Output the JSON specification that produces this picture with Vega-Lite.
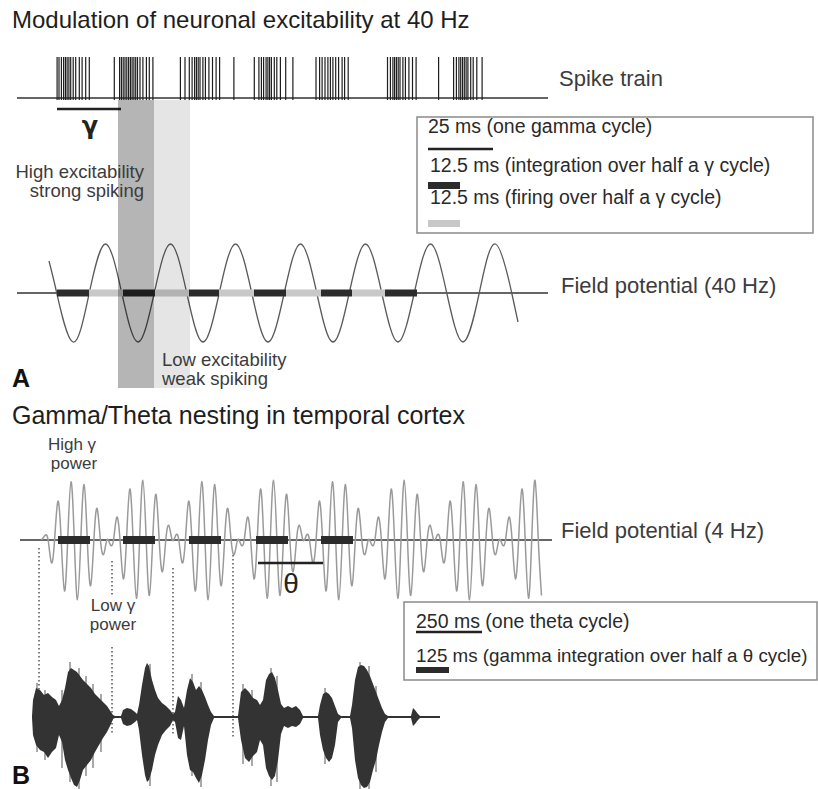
{
  "$schema": "https://vega.github.io/schema/vega-lite/v6.json",
  "width": 818,
  "height": 789,
  "autosize": {"type": "none"},
  "padding": 0,
  "background": "white",
  "config": {"view": {"stroke": null}, "font": "Liberation Sans"},
  "datasets": {
    "baselines": [
      {"x": 17, "x2": 548, "y": 98},
      {"x": 17, "x2": 548, "y": 293},
      {"x": 20, "x2": 552, "y": 540}
    ],
    "waveA": [
      {"x": 49, "y": 261}, {"x": 56.75, "y": 293}, {"x": 73, "y": 342}, {"x": 89.25, "y": 293},
      {"x": 105.5, "y": 244}, {"x": 121.75, "y": 293}, {"x": 138, "y": 342}, {"x": 154.25, "y": 293},
      {"x": 170.5, "y": 244}, {"x": 186.75, "y": 293}, {"x": 203, "y": 342}, {"x": 219.25, "y": 293},
      {"x": 235.5, "y": 244}, {"x": 251.75, "y": 293}, {"x": 268, "y": 342}, {"x": 284.25, "y": 293},
      {"x": 300.5, "y": 244}, {"x": 316.75, "y": 293}, {"x": 333, "y": 342}, {"x": 349.25, "y": 293},
      {"x": 365.5, "y": 244}, {"x": 381.75, "y": 293}, {"x": 398, "y": 342}, {"x": 414.25, "y": 293},
      {"x": 430.5, "y": 244}, {"x": 446.75, "y": 293}, {"x": 463, "y": 342}, {"x": 479.25, "y": 293},
      {"x": 495.5, "y": 244}, {"x": 511.75, "y": 293}, {"x": 518, "y": 322}
    ],
    "waveB": [
      {"x": 41.6, "y": 540}, {"x": 44.9, "y": 535.6}, {"x": 48.1, "y": 540}, {"x": 51.4, "y": 562.7},
      {"x": 54.6, "y": 540}, {"x": 57.9, "y": 501.2}, {"x": 61.2, "y": 540}, {"x": 64.5, "y": 591.0},
      {"x": 67.7, "y": 540}, {"x": 71.0, "y": 481.7}, {"x": 74.3, "y": 540}, {"x": 77.5, "y": 599.8},
      {"x": 80.8, "y": 540}, {"x": 84.1, "y": 484.5}, {"x": 87.3, "y": 540}, {"x": 90.6, "y": 585.8},
      {"x": 93.9, "y": 540}, {"x": 97.1, "y": 508.4}, {"x": 100.4, "y": 540}, {"x": 103.7, "y": 554.3},
      {"x": 106.9, "y": 540}, {"x": 110.2, "y": 544.4}, {"x": 113.5, "y": 540}, {"x": 116.7, "y": 517.3},
      {"x": 120.0, "y": 540}, {"x": 123.3, "y": 578.8}, {"x": 126.5, "y": 540}, {"x": 129.8, "y": 489.0},
      {"x": 133.1, "y": 540}, {"x": 136.4, "y": 598.3}, {"x": 139.6, "y": 540}, {"x": 142.9, "y": 480.2},
      {"x": 146.2, "y": 540}, {"x": 149.4, "y": 595.5}, {"x": 152.7, "y": 540}, {"x": 156.0, "y": 494.2},
      {"x": 159.2, "y": 540}, {"x": 162.5, "y": 571.6}, {"x": 165.8, "y": 540}, {"x": 169.0, "y": 525.7},
      {"x": 172.3, "y": 540}, {"x": 175.6, "y": 535.6}, {"x": 178.8, "y": 540}, {"x": 182.1, "y": 562.7},
      {"x": 185.4, "y": 540}, {"x": 188.6, "y": 501.2}, {"x": 191.9, "y": 540}, {"x": 195.2, "y": 591.0},
      {"x": 198.4, "y": 540}, {"x": 201.7, "y": 481.7}, {"x": 205.0, "y": 540}, {"x": 208.2, "y": 599.8},
      {"x": 211.5, "y": 540}, {"x": 214.8, "y": 484.5}, {"x": 218.0, "y": 540}, {"x": 221.3, "y": 585.8},
      {"x": 224.6, "y": 540}, {"x": 227.8, "y": 508.4}, {"x": 231.1, "y": 540}, {"x": 234.4, "y": 554.3},
      {"x": 237.6, "y": 540}, {"x": 240.9, "y": 544.4}, {"x": 244.2, "y": 540}, {"x": 247.4, "y": 517.3},
      {"x": 250.7, "y": 540}, {"x": 254.0, "y": 578.8}, {"x": 257.2, "y": 540}, {"x": 260.5, "y": 489.0},
      {"x": 263.8, "y": 540}, {"x": 267.1, "y": 598.3}, {"x": 270.3, "y": 540}, {"x": 273.6, "y": 480.2},
      {"x": 276.9, "y": 540}, {"x": 280.1, "y": 595.5}, {"x": 283.4, "y": 540}, {"x": 286.7, "y": 494.2},
      {"x": 289.9, "y": 540}, {"x": 293.2, "y": 571.6}, {"x": 296.5, "y": 540}, {"x": 299.7, "y": 525.7},
      {"x": 303.0, "y": 540}, {"x": 306.3, "y": 535.6}, {"x": 309.5, "y": 540}, {"x": 312.8, "y": 562.7},
      {"x": 316.1, "y": 540}, {"x": 319.3, "y": 501.2}, {"x": 322.6, "y": 540}, {"x": 325.9, "y": 591.0},
      {"x": 329.1, "y": 540}, {"x": 332.4, "y": 481.7}, {"x": 335.7, "y": 540}, {"x": 338.9, "y": 599.8},
      {"x": 342.2, "y": 540}, {"x": 345.5, "y": 484.5}, {"x": 348.7, "y": 540}, {"x": 352.0, "y": 585.8},
      {"x": 355.3, "y": 540}, {"x": 358.5, "y": 508.4}, {"x": 361.8, "y": 540}, {"x": 365.1, "y": 554.3},
      {"x": 368.3, "y": 540}, {"x": 371.6, "y": 544.4}, {"x": 374.9, "y": 540}, {"x": 378.1, "y": 517.3},
      {"x": 381.4, "y": 540}, {"x": 384.7, "y": 578.8}, {"x": 387.9, "y": 540}, {"x": 391.2, "y": 489.0},
      {"x": 394.5, "y": 540}, {"x": 397.8, "y": 598.3}, {"x": 401.0, "y": 540}, {"x": 404.3, "y": 480.2},
      {"x": 407.5, "y": 540}, {"x": 410.8, "y": 595.5}, {"x": 414.1, "y": 540}, {"x": 417.4, "y": 494.2},
      {"x": 420.6, "y": 540}, {"x": 423.9, "y": 571.6}, {"x": 427.2, "y": 540}, {"x": 430.4, "y": 525.7},
      {"x": 433.7, "y": 540}, {"x": 437.0, "y": 535.6}, {"x": 440.2, "y": 540}, {"x": 443.5, "y": 562.7},
      {"x": 446.8, "y": 540}, {"x": 450.0, "y": 501.2}, {"x": 453.3, "y": 540}, {"x": 456.6, "y": 591.0},
      {"x": 459.8, "y": 540}, {"x": 463.1, "y": 481.7}, {"x": 466.3, "y": 540}, {"x": 469.6, "y": 599.8},
      {"x": 472.9, "y": 540}, {"x": 476.2, "y": 484.5}, {"x": 479.4, "y": 540}, {"x": 482.7, "y": 585.8},
      {"x": 485.9, "y": 540}, {"x": 489.2, "y": 508.4}, {"x": 492.5, "y": 540}, {"x": 495.8, "y": 554.3},
      {"x": 499.0, "y": 540}, {"x": 502.3, "y": 544.4}, {"x": 505.5, "y": 540}, {"x": 508.8, "y": 517.3},
      {"x": 512.1, "y": 540}, {"x": 515.4, "y": 578.8}, {"x": 518.6, "y": 540}, {"x": 521.9, "y": 489.0},
      {"x": 525.2, "y": 540}, {"x": 528.5, "y": 598.3}, {"x": 531.7, "y": 540}, {"x": 535.0, "y": 480.2},
      {"x": 538.3, "y": 540}, {"x": 541.5, "y": 595.5}
    ],
    "bars": [
      {"x": 57, "x2": 89, "y": 289.5, "y2": 296.5, "kind": "dark"},
      {"x": 89, "x2": 123, "y": 289.5, "y2": 296.5, "kind": "light"},
      {"x": 123, "x2": 155, "y": 289.5, "y2": 296.5, "kind": "dark"},
      {"x": 155, "x2": 189, "y": 289.5, "y2": 296.5, "kind": "light"},
      {"x": 189, "x2": 219, "y": 289.5, "y2": 296.5, "kind": "dark"},
      {"x": 219, "x2": 254, "y": 289.5, "y2": 296.5, "kind": "light"},
      {"x": 254, "x2": 286, "y": 289.5, "y2": 296.5, "kind": "dark"},
      {"x": 286, "x2": 321, "y": 289.5, "y2": 296.5, "kind": "light"},
      {"x": 321, "x2": 352, "y": 289.5, "y2": 296.5, "kind": "dark"},
      {"x": 352, "x2": 385, "y": 289.5, "y2": 296.5, "kind": "light"},
      {"x": 385, "x2": 417, "y": 289.5, "y2": 296.5, "kind": "dark"},
      {"x": 58, "x2": 90, "y": 536, "y2": 544, "kind": "dark"},
      {"x": 123, "x2": 155, "y": 536, "y2": 544, "kind": "dark"},
      {"x": 189, "x2": 221, "y": 536, "y2": 544, "kind": "dark"},
      {"x": 256, "x2": 288, "y": 536, "y2": 544, "kind": "dark"},
      {"x": 321, "x2": 353, "y": 536, "y2": 544, "kind": "dark"},
      {"x": 428, "x2": 460, "y": 182, "y2": 189, "kind": "dark"},
      {"x": 428, "x2": 460, "y": 220, "y2": 227, "kind": "light"},
      {"x": 416, "x2": 449, "y": 667, "y2": 673, "kind": "dark"}
    ],
    "spikes": [
      {"x": 57.1, "y": 57, "y2": 100}, {"x": 59.0, "y": 57, "y2": 100}, {"x": 61.4, "y": 57, "y2": 100}, {"x": 63.6, "y": 57, "y2": 100},
      {"x": 65.4, "y": 57, "y2": 100}, {"x": 67.1, "y": 57, "y2": 100}, {"x": 68.9, "y": 57, "y2": 100}, {"x": 70.7, "y": 57, "y2": 100},
      {"x": 73.2, "y": 57, "y2": 100}, {"x": 75.7, "y": 57, "y2": 100}, {"x": 79.3, "y": 57, "y2": 100}, {"x": 82.1, "y": 57, "y2": 100},
      {"x": 85.7, "y": 57, "y2": 100}, {"x": 89.3, "y": 57, "y2": 100},
      {"x": 114.3, "y": 57, "y2": 100}, {"x": 119.6, "y": 57, "y2": 100}, {"x": 121.4, "y": 57, "y2": 100}, {"x": 123.2, "y": 57, "y2": 100},
      {"x": 125.0, "y": 57, "y2": 100}, {"x": 126.8, "y": 57, "y2": 100}, {"x": 128.6, "y": 57, "y2": 100}, {"x": 130.4, "y": 57, "y2": 100},
      {"x": 132.1, "y": 57, "y2": 100}, {"x": 133.9, "y": 57, "y2": 100}, {"x": 135.7, "y": 57, "y2": 100}, {"x": 137.5, "y": 57, "y2": 100},
      {"x": 140.0, "y": 57, "y2": 100}, {"x": 142.9, "y": 57, "y2": 100}, {"x": 146.4, "y": 57, "y2": 100}, {"x": 149.3, "y": 57, "y2": 100},
      {"x": 152.9, "y": 57, "y2": 100},
      {"x": 180.4, "y": 57, "y2": 100}, {"x": 185.0, "y": 57, "y2": 100}, {"x": 189.3, "y": 57, "y2": 100}, {"x": 192.1, "y": 57, "y2": 100},
      {"x": 194.6, "y": 57, "y2": 100}, {"x": 196.4, "y": 57, "y2": 100}, {"x": 198.2, "y": 57, "y2": 100}, {"x": 200.0, "y": 57, "y2": 100},
      {"x": 202.9, "y": 57, "y2": 100}, {"x": 205.4, "y": 57, "y2": 100}, {"x": 208.9, "y": 57, "y2": 100}, {"x": 212.5, "y": 57, "y2": 100},
      {"x": 216.1, "y": 57, "y2": 100}, {"x": 219.6, "y": 57, "y2": 100},
      {"x": 233.9, "y": 57, "y2": 100},
      {"x": 254.3, "y": 57, "y2": 100}, {"x": 258.9, "y": 57, "y2": 100}, {"x": 261.4, "y": 57, "y2": 100}, {"x": 263.6, "y": 57, "y2": 100},
      {"x": 266.1, "y": 57, "y2": 100}, {"x": 267.9, "y": 57, "y2": 100}, {"x": 269.6, "y": 57, "y2": 100}, {"x": 271.4, "y": 57, "y2": 100},
      {"x": 274.3, "y": 57, "y2": 100}, {"x": 276.8, "y": 57, "y2": 100}, {"x": 280.4, "y": 57, "y2": 100}, {"x": 285.7, "y": 57, "y2": 100},
      {"x": 292.9, "y": 57, "y2": 100},
      {"x": 316.0, "y": 57, "y2": 100}, {"x": 319.6, "y": 57, "y2": 100}, {"x": 322.1, "y": 57, "y2": 100}, {"x": 325.0, "y": 57, "y2": 100},
      {"x": 327.9, "y": 57, "y2": 100}, {"x": 330.4, "y": 57, "y2": 100}, {"x": 332.9, "y": 57, "y2": 100}, {"x": 335.7, "y": 57, "y2": 100},
      {"x": 338.6, "y": 57, "y2": 100}, {"x": 342.1, "y": 57, "y2": 100}, {"x": 344.6, "y": 57, "y2": 100}, {"x": 348.2, "y": 57, "y2": 100},
      {"x": 387.5, "y": 57, "y2": 100}, {"x": 390.4, "y": 57, "y2": 100}, {"x": 392.9, "y": 57, "y2": 100}, {"x": 394.6, "y": 57, "y2": 100},
      {"x": 396.4, "y": 57, "y2": 100}, {"x": 398.2, "y": 57, "y2": 100}, {"x": 400.0, "y": 57, "y2": 100}, {"x": 402.9, "y": 57, "y2": 100},
      {"x": 405.4, "y": 57, "y2": 100}, {"x": 408.9, "y": 57, "y2": 100}, {"x": 412.5, "y": 57, "y2": 100}, {"x": 416.1, "y": 57, "y2": 100},
      {"x": 438.6, "y": 57, "y2": 100},
      {"x": 453.6, "y": 57, "y2": 100}, {"x": 456.4, "y": 57, "y2": 100}, {"x": 458.9, "y": 57, "y2": 100}, {"x": 460.7, "y": 57, "y2": 100},
      {"x": 462.5, "y": 57, "y2": 100}, {"x": 464.3, "y": 57, "y2": 100}, {"x": 466.1, "y": 57, "y2": 100}, {"x": 467.9, "y": 57, "y2": 100},
      {"x": 470.7, "y": 57, "y2": 100}, {"x": 473.2, "y": 57, "y2": 100}, {"x": 476.8, "y": 57, "y2": 100}, {"x": 482.1, "y": 57, "y2": 100}
    ],
    "scalebars": [
      {"x": 57, "x2": 121, "y": 109},
      {"x": 258, "x2": 323, "y": 563},
      {"x": 428, "x2": 493, "y": 149},
      {"x": 416, "x2": 482, "y": 632}
    ],
    "dotted": [
      {"x": 39, "y": 548, "y2": 690},
      {"x": 112, "y": 561, "y2": 595},
      {"x": 112, "y": 647, "y2": 733},
      {"x": 173, "y": 568, "y2": 735},
      {"x": 233, "y": 555, "y2": 738}
    ],
    "speech": [
      {"x": 32, "y": 716, "y2": 718}, {"x": 33, "y": 700, "y2": 735}, {"x": 36, "y": 688, "y2": 745},
      {"x": 40, "y": 690, "y2": 750}, {"x": 44, "y": 695, "y2": 752}, {"x": 48, "y": 693, "y2": 758},
      {"x": 52, "y": 697, "y2": 752}, {"x": 56, "y": 700, "y2": 748}, {"x": 59, "y": 706, "y2": 735},
      {"x": 62, "y": 700, "y2": 742}, {"x": 65, "y": 688, "y2": 760}, {"x": 68, "y": 672, "y2": 770},
      {"x": 71, "y": 668, "y2": 778}, {"x": 74, "y": 670, "y2": 785}, {"x": 77, "y": 672, "y2": 787},
      {"x": 80, "y": 676, "y2": 780}, {"x": 83, "y": 680, "y2": 770}, {"x": 87, "y": 684, "y2": 765},
      {"x": 91, "y": 688, "y2": 760}, {"x": 95, "y": 694, "y2": 752}, {"x": 99, "y": 698, "y2": 745},
      {"x": 103, "y": 702, "y2": 738}, {"x": 107, "y": 706, "y2": 732}, {"x": 111, "y": 712, "y2": 724},
      {"x": 113, "y": 715, "y2": 719}, {"x": 115, "y": 716, "y2": 718}, {"x": 121, "y": 716, "y2": 718},
      {"x": 123, "y": 710, "y2": 724}, {"x": 127, "y": 708, "y2": 726}, {"x": 131, "y": 709, "y2": 725},
      {"x": 135, "y": 712, "y2": 722}, {"x": 137, "y": 714, "y2": 720}, {"x": 139, "y": 705, "y2": 730},
      {"x": 142, "y": 685, "y2": 755}, {"x": 145, "y": 668, "y2": 775}, {"x": 147, "y": 663, "y2": 782},
      {"x": 149, "y": 666, "y2": 780}, {"x": 152, "y": 680, "y2": 770}, {"x": 155, "y": 690, "y2": 755},
      {"x": 158, "y": 698, "y2": 745}, {"x": 162, "y": 703, "y2": 735}, {"x": 166, "y": 706, "y2": 730},
      {"x": 170, "y": 710, "y2": 726}, {"x": 173, "y": 714, "y2": 720}, {"x": 175, "y": 712, "y2": 722},
      {"x": 178, "y": 696, "y2": 738}, {"x": 181, "y": 700, "y2": 740}, {"x": 184, "y": 708, "y2": 726},
      {"x": 187, "y": 690, "y2": 755}, {"x": 190, "y": 678, "y2": 770}, {"x": 193, "y": 682, "y2": 772},
      {"x": 196, "y": 690, "y2": 778}, {"x": 199, "y": 686, "y2": 783}, {"x": 202, "y": 690, "y2": 775},
      {"x": 205, "y": 697, "y2": 760}, {"x": 208, "y": 705, "y2": 740}, {"x": 211, "y": 712, "y2": 725},
      {"x": 214, "y": 716, "y2": 718}, {"x": 238, "y": 716, "y2": 718}, {"x": 241, "y": 692, "y2": 740},
      {"x": 245, "y": 688, "y2": 758}, {"x": 249, "y": 692, "y2": 762}, {"x": 253, "y": 698, "y2": 756},
      {"x": 257, "y": 700, "y2": 752}, {"x": 260, "y": 705, "y2": 740}, {"x": 263, "y": 700, "y2": 745},
      {"x": 266, "y": 680, "y2": 768}, {"x": 269, "y": 674, "y2": 776}, {"x": 272, "y": 672, "y2": 780},
      {"x": 275, "y": 678, "y2": 776}, {"x": 278, "y": 690, "y2": 760}, {"x": 281, "y": 704, "y2": 734},
      {"x": 284, "y": 708, "y2": 726}, {"x": 288, "y": 706, "y2": 728}, {"x": 292, "y": 708, "y2": 726},
      {"x": 296, "y": 706, "y2": 727}, {"x": 300, "y": 710, "y2": 724}, {"x": 303, "y": 716, "y2": 718},
      {"x": 318, "y": 716, "y2": 718}, {"x": 320, "y": 705, "y2": 735}, {"x": 323, "y": 694, "y2": 750},
      {"x": 326, "y": 692, "y2": 758}, {"x": 329, "y": 694, "y2": 762}, {"x": 332, "y": 698, "y2": 758},
      {"x": 335, "y": 706, "y2": 745}, {"x": 338, "y": 714, "y2": 722}, {"x": 341, "y": 716, "y2": 718},
      {"x": 350, "y": 716, "y2": 718}, {"x": 352, "y": 705, "y2": 728}, {"x": 355, "y": 680, "y2": 760},
      {"x": 358, "y": 667, "y2": 778}, {"x": 361, "y": 665, "y2": 785}, {"x": 364, "y": 666, "y2": 788},
      {"x": 367, "y": 670, "y2": 787}, {"x": 370, "y": 676, "y2": 782}, {"x": 373, "y": 684, "y2": 770},
      {"x": 376, "y": 692, "y2": 760}, {"x": 379, "y": 700, "y2": 745}, {"x": 382, "y": 708, "y2": 732},
      {"x": 385, "y": 714, "y2": 722}, {"x": 388, "y": 716, "y2": 718}, {"x": 411, "y": 716, "y2": 718},
      {"x": 413, "y": 708, "y2": 726}, {"x": 415, "y": 710, "y2": 724}, {"x": 418, "y": 714, "y2": 720},
      {"x": 420, "y": 716, "y2": 718}, {"x": 440, "y": 716, "y2": 718}
    ],
    "streaks": [
      {"x": 37, "y": 683, "y2": 752}, {"x": 45, "y": 690, "y2": 760}, {"x": 62, "y": 690, "y2": 768},
      {"x": 70, "y": 662, "y2": 782}, {"x": 79, "y": 668, "y2": 789}, {"x": 86, "y": 676, "y2": 776},
      {"x": 93, "y": 684, "y2": 768}, {"x": 101, "y": 694, "y2": 752}, {"x": 150, "y": 664, "y2": 786},
      {"x": 192, "y": 674, "y2": 776}, {"x": 201, "y": 682, "y2": 787}, {"x": 243, "y": 684, "y2": 764},
      {"x": 252, "y": 690, "y2": 766}, {"x": 271, "y": 668, "y2": 786}, {"x": 277, "y": 676, "y2": 782},
      {"x": 325, "y": 688, "y2": 764}, {"x": 360, "y": 662, "y2": 789}, {"x": 369, "y": 666, "y2": 789},
      {"x": 376, "y": 686, "y2": 772}
    ],
    "boxes": [
      {"x": 417, "x2": 813, "y": 117, "y2": 233},
      {"x": 404, "x2": 817, "y": 602, "y2": 680}
    ],
    "bands": [
      {"x": 118, "x2": 154, "y": 100, "y2": 388, "kind": "strong"},
      {"x": 154, "x2": 190, "y": 100, "y2": 388, "kind": "weak"}
    ],
    "titleA": [
      {"x": 12, "y": 28, "t": "Modulation of neuronal excitability at 40 Hz"}
    ],
    "titleB": [
      {"x": 12, "y": 424, "t": "Gamma/Theta nesting in temporal cortex"}
    ],
    "rightLabels": [
      {"x": 559, "y": 86, "t": "Spike train"},
      {"x": 561, "y": 293, "t": "Field potential (40 Hz)"},
      {"x": 561, "y": 538, "t": "Field potential (4 Hz)"}
    ],
    "annRight": [
      {"x": 144, "y": 178, "t": "High excitability"},
      {"x": 144, "y": 197, "t": "strong spiking"}
    ],
    "annLeft": [
      {"x": 162, "y": 366, "t": "Low excitability"},
      {"x": 162, "y": 385, "t": "weak spiking"}
    ],
    "annCenter": [
      {"x": 72, "y": 450, "t": "High γ"},
      {"x": 74, "y": 469, "t": "power"},
      {"x": 113, "y": 611, "t": "Low γ"},
      {"x": 113, "y": 630, "t": "power"}
    ],
    "legendText": [
      {"x": 428, "y": 133, "t": "25 ms (one gamma cycle)"},
      {"x": 430, "y": 172, "t": "12.5 ms (integration over half a γ cycle)"},
      {"x": 430, "y": 204, "t": "12.5 ms (firing over half a γ cycle)"},
      {"x": 416, "y": 628, "t": "250 ms (one theta cycle)"}
    ],
    "legendLong": [
      {"x": 416, "y": 662, "t": "125 ms (gamma integration over half a θ cycle)"}
    ],
    "letters": [
      {"x": 12, "y": 387, "t": "A"},
      {"x": 12, "y": 784, "t": "B"}
    ],
    "gamma": [{"x": 90, "y": 134, "t": "γ"}],
    "theta": [{"x": 291, "y": 593, "t": "θ"}]
  },
  "encoding": {
    "x": {"field": "x", "type": "quantitative", "scale": {"domain": [0, 818], "nice": false, "zero": false}, "axis": null},
    "y": {"field": "y", "type": "quantitative", "scale": {"domain": [0, 789], "nice": false, "zero": false, "reverse": true}, "axis": null}
  },
  "layer": [
    {
      "data": {"name": "baselines"},
      "mark": {"type": "rule", "color": "#666666", "strokeWidth": 2},
      "encoding": {"x2": {"field": "x2"}}
    },
    {
      "data": {"name": "waveA"},
      "mark": {"type": "line", "interpolate": "natural", "color": "#5a5a5a", "strokeWidth": 1.3},
      "encoding": {}
    },
    {
      "data": {"name": "waveB"},
      "mark": {"type": "line", "interpolate": "natural", "color": "#9a9a9a", "strokeWidth": 1.5},
      "encoding": {}
    },
    {
      "data": {"name": "bars"},
      "mark": {"type": "rect"},
      "encoding": {
        "x2": {"field": "x2"},
        "y2": {"field": "y2"},
        "color": {"field": "kind", "type": "nominal", "scale": {"domain": ["dark", "light"], "range": ["#2b2b2b", "#c8c8c8"]}, "legend": null}
      }
    },
    {
      "data": {"name": "spikes"},
      "mark": {"type": "rule", "color": "#1e1e1e", "strokeWidth": 1.2},
      "encoding": {"y2": {"field": "y2"}}
    },
    {
      "data": {"name": "scalebars"},
      "mark": {"type": "rule", "color": "#222222", "strokeWidth": 2.5},
      "encoding": {"x2": {"field": "x2"}}
    },
    {
      "data": {"name": "dotted"},
      "mark": {"type": "rule", "color": "#555555", "strokeWidth": 1.5, "strokeDash": [1.5, 2.5]},
      "encoding": {"y2": {"field": "y2"}}
    },
    {
      "data": {"name": "streaks"},
      "mark": {"type": "rule", "color": "#8c8c8c", "strokeWidth": 1.5},
      "encoding": {"y2": {"field": "y2"}}
    },
    {
      "data": {"name": "speech"},
      "mark": {"type": "area", "color": "#333333"},
      "encoding": {"y2": {"field": "y2"}}
    },
    {
      "data": {"name": "boxes"},
      "mark": {"type": "rect", "filled": false, "stroke": "#8a8a8a", "strokeWidth": 1.5},
      "encoding": {"x2": {"field": "x2"}, "y2": {"field": "y2"}}
    },
    {
      "data": {"name": "bands"},
      "mark": {"type": "rect", "color": "#000000"},
      "encoding": {
        "x2": {"field": "x2"},
        "y2": {"field": "y2"},
        "opacity": {"field": "kind", "type": "ordinal", "scale": {"domain": ["strong", "weak"], "range": [0.29, 0.1]}, "legend": null}
      }
    },
    {
      "data": {"name": "titleA"},
      "mark": {"type": "text", "align": "left", "baseline": "alphabetic", "fontSize": 24, "color": "#1e1e1e"},
      "encoding": {"text": {"field": "t"}}
    },
    {
      "data": {"name": "titleB"},
      "mark": {"type": "text", "align": "left", "baseline": "alphabetic", "fontSize": 25, "color": "#1e1e1e"},
      "encoding": {"text": {"field": "t"}}
    },
    {
      "data": {"name": "rightLabels"},
      "mark": {"type": "text", "align": "left", "baseline": "alphabetic", "fontSize": 22, "color": "#3c3c3c"},
      "encoding": {"text": {"field": "t"}}
    },
    {
      "data": {"name": "annRight"},
      "mark": {"type": "text", "align": "right", "baseline": "alphabetic", "fontSize": 18.5, "color": "#3c3c3c"},
      "encoding": {"text": {"field": "t"}}
    },
    {
      "data": {"name": "annLeft"},
      "mark": {"type": "text", "align": "left", "baseline": "alphabetic", "fontSize": 18.5, "color": "#3c3c3c"},
      "encoding": {"text": {"field": "t"}}
    },
    {
      "data": {"name": "annCenter"},
      "mark": {"type": "text", "align": "center", "baseline": "alphabetic", "fontSize": 17, "color": "#3c3c3c"},
      "encoding": {"text": {"field": "t"}}
    },
    {
      "data": {"name": "legendText"},
      "mark": {"type": "text", "align": "left", "baseline": "alphabetic", "fontSize": 19.5, "color": "#2a2a2a"},
      "encoding": {"text": {"field": "t"}}
    },
    {
      "data": {"name": "legendLong"},
      "mark": {"type": "text", "align": "left", "baseline": "alphabetic", "fontSize": 18.8, "color": "#2a2a2a"},
      "encoding": {"text": {"field": "t"}}
    },
    {
      "data": {"name": "letters"},
      "mark": {"type": "text", "align": "left", "baseline": "alphabetic", "fontSize": 25, "fontWeight": "bold", "color": "#111111"},
      "encoding": {"text": {"field": "t"}}
    },
    {
      "data": {"name": "gamma"},
      "mark": {"type": "text", "align": "center", "baseline": "alphabetic", "fontSize": 24, "fontWeight": "bold", "font": "DejaVu Sans", "color": "#222222"},
      "encoding": {"text": {"field": "t"}}
    },
    {
      "data": {"name": "theta"},
      "mark": {"type": "text", "align": "center", "baseline": "alphabetic", "fontSize": 28, "color": "#222222"},
      "encoding": {"text": {"field": "t"}}
    }
  ]
}
